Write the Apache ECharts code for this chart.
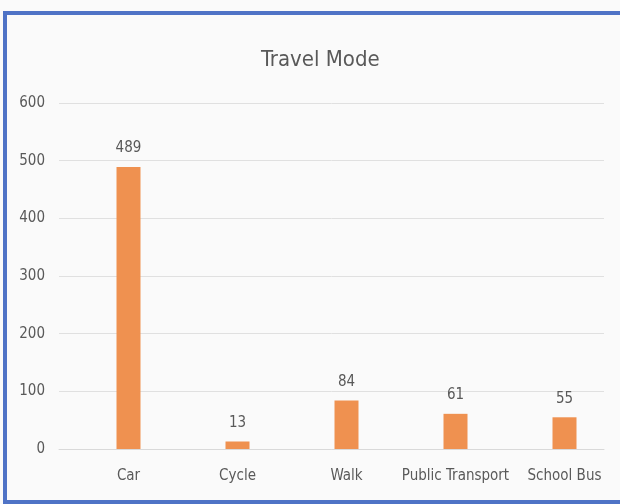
<!DOCTYPE html>
<html>
<head>
<meta charset="utf-8">
<script src="https://cdn.jsdelivr.net/npm/echarts@6/dist/echarts.min.js"></script>
<style>
  html, body { margin: 0; padding: 0; background: #fafafa; }
  #chart { width: 620px; height: 504px; }
  .frame {
    position: absolute; left: 3px; top: 11px; width: 640px; height: 485px;
    border: 4px solid #4f73c6; pointer-events: none;
  }
</style>
</head>
<body>
<div id="chart"></div>
<div class="frame"></div>
<script>
const categories = ['Car', 'Cycle', 'Walk', 'Public Transport', 'School Bus']
const counts = [489, 13, 84, 61, 55]

const font = "'Liberation Sans Narrow', 'DejaVu Sans Condensed', sans-serif"
const textColor = '#595959'

const chart = echarts.init(document.getElementById('chart'))
chart.setOption({
  backgroundColor: '#fafafa',
  title: {
    text: 'Travel Mode',
    left: 256,
    top: 44,
    textStyle: { color: textColor, fontSize: 22, fontWeight: 'normal', fontFamily: font }
  },
  // grid 0 carries the value axis and gridlines, grid 1 the bars (scan is shifted)
  grid: [
    { left: 59, right: 16, top: 103, bottom: 55 },
    { left: 74, right: 1, top: 103, bottom: 55 }
  ],
  xAxis: [{
    type: 'category',
    gridIndex: 0,
    data: categories,
    axisLine: { lineStyle: { color: '#d9d9d9' } },
    axisTick: { show: false },
    axisLabel: { show: false }
  }, {
    type: 'category',
    gridIndex: 1,
    data: categories,
    axisLine: { show: false },
    axisTick: { show: false },
    axisLabel: { color: textColor, fontSize: 15, fontFamily: font, margin: 20, interval: 0 }
  }],
  yAxis: [{
    type: 'value',
    gridIndex: 0,
    min: 0,
    max: 600,
    interval: 100,
    axisLine: { show: false },
    axisTick: { show: false },
    splitLine: { lineStyle: { color: '#e0e0e0' } },
    axisLabel: { color: textColor, fontSize: 15, fontFamily: font, margin: 14 }
  }, {
    type: 'value',
    gridIndex: 1,
    min: 0,
    max: 600,
    interval: 100,
    show: false
  }],
  series: [{
    type: 'bar',
    xAxisIndex: 1,
    yAxisIndex: 1,
    data: counts,
    barWidth: 24,
    itemStyle: { color: '#ef9150' },
    label: {
      show: true,
      position: 'top',
      distance: 11,
      color: textColor,
      fontSize: 15,
      fontFamily: font
    }
  }]
})
</script>
</body>
</html>
